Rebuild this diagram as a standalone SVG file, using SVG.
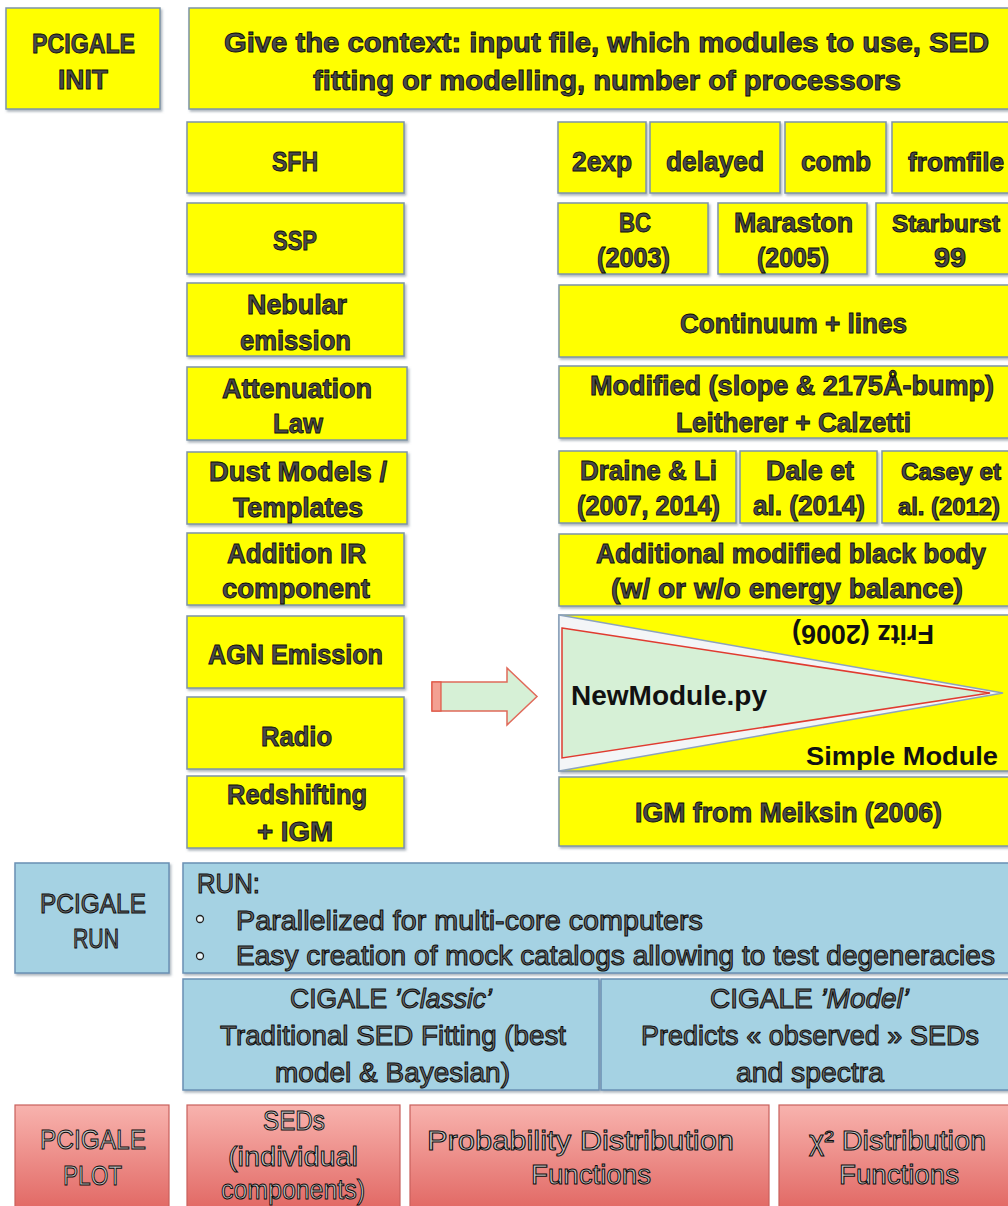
<svg xmlns="http://www.w3.org/2000/svg" width="1008" height="1206" viewBox="0 0 1008 1206">
<defs>
<filter id="sh" x="-5%" y="-10%" width="115%" height="130%">
<feDropShadow dx="1.5" dy="2" stdDeviation="1" flood-color="#5f6f80" flood-opacity="0.5"/>
</filter>
<linearGradient id="rg" x1="0" y1="0" x2="0" y2="1">
<stop offset="0" stop-color="#f8b3ae"/>
<stop offset="1" stop-color="#dc5652"/>
</linearGradient>
<style>
.y{fill:#ffff00;stroke:#7d94a8;stroke-width:1.5;filter:url(#sh)}
.b{fill:#a5d2e3;stroke:#6a90b4;stroke-width:1.5;filter:url(#sh)}
.r{fill:url(#rg);stroke:#c9605c;stroke-width:1.2}
text{font-family:"Liberation Sans",Arial,sans-serif;font-size:28px}
.ty{font-weight:bold;fill:#4a4a4a;stroke:#0a0a0a;stroke-width:0.9}
.tb{font-weight:normal;fill:#6a6a6a;stroke:#0a0a0a;stroke-width:1}
.tr{font-weight:normal;fill:#c4c4c4;stroke:#0a0a0a;stroke-width:1}
.tp{font-weight:bold;fill:#111}
</style>
</defs>
<rect width="1008" height="1206" fill="#ffffff"/>

<g id="init-label"><rect class="y" x="6" y="8" width="154" height="101"/>
<text class="ty" x="32" y="53" textLength="103" lengthAdjust="spacingAndGlyphs">PCIGALE</text>
<text class="ty" x="58" y="89" textLength="50" lengthAdjust="spacingAndGlyphs">INIT</text></g>

<g id="context"><rect class="y" x="189" y="8" width="820" height="101"/>
<text class="ty" x="224" y="52" textLength="765" lengthAdjust="spacingAndGlyphs">Give the context: input file, which modules to use, SED</text>
<text class="ty" x="313" y="90" textLength="588" lengthAdjust="spacingAndGlyphs">fitting or modelling, number of processors</text></g>

<g id="sfh"><rect class="y" x="187" y="122" width="217" height="71"/>
<text class="ty" x="272" y="171" textLength="46" lengthAdjust="spacingAndGlyphs">SFH</text></g>
<g id="ssp"><rect class="y" x="187" y="203" width="217" height="71"/>
<text class="ty" x="273" y="250" textLength="44" lengthAdjust="spacingAndGlyphs">SSP</text></g>
<g id="nebular"><rect class="y" x="187" y="283" width="217" height="73"/>
<text class="ty" x="247" y="314" textLength="100" lengthAdjust="spacingAndGlyphs">Nebular</text>
<text class="ty" x="240" y="350" textLength="111" lengthAdjust="spacingAndGlyphs">emission</text></g>
<g id="attenuation"><rect class="y" x="187" y="367" width="220" height="73"/>
<text class="ty" x="222" y="398" textLength="150" lengthAdjust="spacingAndGlyphs">Attenuation</text>
<text class="ty" x="273" y="433" textLength="50" lengthAdjust="spacingAndGlyphs">Law</text></g>
<g id="dust"><rect class="y" x="187" y="452" width="220" height="72"/>
<text class="ty" x="209" y="481" textLength="178" lengthAdjust="spacingAndGlyphs">Dust Models /</text>
<text class="ty" x="233" y="517" textLength="130" lengthAdjust="spacingAndGlyphs">Templates</text></g>
<g id="addir"><rect class="y" x="187" y="533" width="217" height="72"/>
<text class="ty" x="227" y="563" textLength="139" lengthAdjust="spacingAndGlyphs">Addition IR</text>
<text class="ty" x="222" y="598" textLength="148" lengthAdjust="spacingAndGlyphs">component</text></g>
<g id="agn"><rect class="y" x="187" y="616" width="217" height="72"/>
<text class="ty" x="208" y="664" textLength="175" lengthAdjust="spacingAndGlyphs">AGN Emission</text></g>
<g id="radio"><rect class="y" x="187" y="697" width="217" height="72"/>
<text class="ty" x="261" y="746" textLength="71" lengthAdjust="spacingAndGlyphs">Radio</text></g>
<g id="redshift"><rect class="y" x="187" y="776" width="217" height="72"/>
<text class="ty" x="227" y="804" textLength="140" lengthAdjust="spacingAndGlyphs">Redshifting</text>
<text class="ty" x="257" y="841" textLength="76" lengthAdjust="spacingAndGlyphs">+ IGM</text></g>

<g id="sfh-2exp"><rect class="y" x="558" y="122" width="88" height="71"/>
<text class="ty" x="572" y="171" textLength="60" lengthAdjust="spacingAndGlyphs">2exp</text></g>
<g id="sfh-delayed"><rect class="y" x="650" y="122" width="130" height="71"/>
<text class="ty" x="666" y="171" textLength="98" lengthAdjust="spacingAndGlyphs">delayed</text></g>
<g id="sfh-comb"><rect class="y" x="785" y="122" width="101" height="71"/>
<text class="ty" x="801" y="171" textLength="70" lengthAdjust="spacingAndGlyphs">comb</text></g>
<g id="sfh-fromfile"><rect class="y" x="892" y="122" width="117" height="71"/>
<text class="ty" x="908" y="171" style="font-size:25px" textLength="96" lengthAdjust="spacingAndGlyphs">fromfile</text></g>

<g id="ssp-bc"><rect class="y" x="558" y="203" width="150" height="71"/>
<text class="ty" x="619" y="232" textLength="32" lengthAdjust="spacingAndGlyphs">BC</text>
<text class="ty" x="597" y="267" textLength="73" lengthAdjust="spacingAndGlyphs">(2003)</text></g>
<g id="ssp-maraston"><rect class="y" x="718" y="203" width="149" height="71"/>
<text class="ty" x="734" y="232" textLength="119" lengthAdjust="spacingAndGlyphs">Maraston</text>
<text class="ty" x="757" y="267" textLength="72" lengthAdjust="spacingAndGlyphs">(2005)</text></g>
<g id="ssp-starburst"><rect class="y" x="876" y="203" width="133" height="71"/>
<text class="ty" x="892" y="232" style="font-size:24px" textLength="108" lengthAdjust="spacingAndGlyphs">Starburst</text>
<text class="ty" x="934" y="267" textLength="32" lengthAdjust="spacingAndGlyphs">99</text></g>

<g id="continuum"><rect class="y" x="559" y="285" width="450" height="72"/>
<text class="ty" x="680" y="333" textLength="227" lengthAdjust="spacingAndGlyphs">Continuum + lines</text></g>
<g id="modified"><rect class="y" x="559" y="366" width="450" height="72"/>
<text class="ty" x="590" y="395" style="font-size:27px" textLength="404" lengthAdjust="spacingAndGlyphs">Modified (slope &amp; 2175Å-bump)</text>
<text class="ty" x="676" y="432" textLength="235" lengthAdjust="spacingAndGlyphs">Leitherer + Calzetti</text></g>

<g id="draine"><rect class="y" x="559" y="451" width="177" height="72"/>
<text class="ty" x="580" y="480" textLength="137" lengthAdjust="spacingAndGlyphs">Draine &amp; Li</text>
<text class="ty" x="577" y="515" textLength="143" lengthAdjust="spacingAndGlyphs">(2007, 2014)</text></g>
<g id="dale"><rect class="y" x="740" y="451" width="137" height="72"/>
<text class="ty" x="766" y="480" textLength="88" lengthAdjust="spacingAndGlyphs">Dale et</text>
<text class="ty" x="753" y="515" textLength="112" lengthAdjust="spacingAndGlyphs">al. (2014)</text></g>
<g id="casey"><rect class="y" x="882" y="451" width="127" height="72"/>
<text class="ty" x="901" y="480" style="font-size:23px" textLength="100" lengthAdjust="spacingAndGlyphs">Casey et</text>
<text class="ty" x="898" y="515" style="font-size:23px" textLength="102" lengthAdjust="spacingAndGlyphs">al. (2012)</text></g>

<g id="mbb"><rect class="y" x="559" y="534" width="450" height="72"/>
<text class="ty" x="596" y="563" style="font-size:27px" textLength="390" lengthAdjust="spacingAndGlyphs">Additional modified black body</text>
<text class="ty" x="611" y="598" textLength="352" lengthAdjust="spacingAndGlyphs">(w/ or w/o energy balance)</text></g>

<g id="agn-module"><rect class="y" x="559" y="615" width="450" height="156"/>
<polygon points="559,615 1003,693 559,771" fill="#f3f5f7" stroke="#8ca3bd" stroke-width="1.5"/>
<polygon points="562,628 990,693 562,758" fill="#d6f0d6" stroke="#e03b30" stroke-width="1.5"/>
<text class="tp" transform="rotate(180 863 633)" x="792" y="641" textLength="142" lengthAdjust="spacingAndGlyphs">Fritz (2006)</text>
<text class="tp" x="571" y="705" textLength="196" lengthAdjust="spacingAndGlyphs">NewModule.py</text>
<text class="tp" x="806" y="765" style="font-size:26px" textLength="192" lengthAdjust="spacingAndGlyphs">Simple Module</text></g>

<g id="igm"><rect class="y" x="559" y="777" width="450" height="69"/>
<text class="ty" x="635" y="822" textLength="307" lengthAdjust="spacingAndGlyphs">IGM from Meiksin (2006)</text></g>

<g id="run-label"><rect class="b" x="15" y="863" width="154" height="110"/>
<text class="tb" x="40" y="913" textLength="106" lengthAdjust="spacingAndGlyphs">PCIGALE</text>
<text class="tb" x="73" y="948" textLength="46" lengthAdjust="spacingAndGlyphs">RUN</text></g>
<g id="run"><rect class="b" x="183" y="863" width="826" height="110"/>
<text class="tb" x="197" y="893" textLength="63" lengthAdjust="spacingAndGlyphs">RUN:</text>
<circle cx="200" cy="919" r="3.5" fill="#e8f4f8" stroke="#222" stroke-width="1.3"/>
<circle cx="200" cy="956" r="3.5" fill="#e8f4f8" stroke="#222" stroke-width="1.3"/>
<text class="tb" x="236" y="930" textLength="467" lengthAdjust="spacingAndGlyphs">Parallelized for multi-core computers</text>
<text class="tb" x="236" y="965" textLength="759" lengthAdjust="spacingAndGlyphs">Easy creation of mock catalogs allowing to test degeneracies</text></g>
<g id="classic"><rect class="b" x="183" y="979" width="416" height="111"/>
<text class="tb" x="290" y="1008" textLength="202" lengthAdjust="spacingAndGlyphs">CIGALE <tspan font-style="italic">’Classic’</tspan></text>
<text class="tb" x="220" y="1045" textLength="346" lengthAdjust="spacingAndGlyphs">Traditional SED Fitting (best</text>
<text class="tb" x="275" y="1082" textLength="235" lengthAdjust="spacingAndGlyphs">model &amp; Bayesian)</text></g>
<g id="model"><rect class="b" x="601" y="979" width="408" height="111"/>
<text class="tb" x="710" y="1008" textLength="199" lengthAdjust="spacingAndGlyphs">CIGALE <tspan font-style="italic">’Model’</tspan></text>
<text class="tb" x="641" y="1045" textLength="338" lengthAdjust="spacingAndGlyphs">Predicts « observed » SEDs</text>
<text class="tb" x="736" y="1082" textLength="148" lengthAdjust="spacingAndGlyphs">and spectra</text></g>

<g id="plot-label"><rect class="r" x="15" y="1105" width="154" height="130"/>
<text class="tr" x="40" y="1149" textLength="106" lengthAdjust="spacingAndGlyphs">PCIGALE</text>
<text class="tr" x="63" y="1185" textLength="59" lengthAdjust="spacingAndGlyphs">PLOT</text></g>
<g id="seds"><rect class="r" x="187" y="1105" width="213" height="130"/>
<text class="tr" x="263" y="1130" textLength="62" lengthAdjust="spacingAndGlyphs">SEDs</text>
<text class="tr" x="228" y="1166" textLength="130" lengthAdjust="spacingAndGlyphs">(individual</text>
<text class="tr" x="221" y="1199" textLength="144" lengthAdjust="spacingAndGlyphs">components)</text></g>
<g id="pdf"><rect class="r" x="410" y="1105" width="359" height="130"/>
<text class="tr" x="427" y="1150" textLength="307" lengthAdjust="spacingAndGlyphs">Probability Distribution</text>
<text class="tr" x="531" y="1184" textLength="120" lengthAdjust="spacingAndGlyphs">Functions</text></g>
<g id="chi2"><rect class="r" x="779" y="1105" width="230" height="130"/>
<text class="tr" x="809" y="1150" textLength="177" lengthAdjust="spacingAndGlyphs">χ² Distribution</text>
<text class="tr" x="839" y="1184" textLength="120" lengthAdjust="spacingAndGlyphs">Functions</text></g>

<g id="connectors">
<polygon points="432,682 507,682 507,668 537,696.5 507,725 507,711 432,711" fill="#d6f0d6" stroke="#e06a5a" stroke-width="1.5"/>
<rect x="432" y="682" width="9" height="29" fill="#f3a092" stroke="#e05545" stroke-width="1.2"/>
</g>
</svg>
